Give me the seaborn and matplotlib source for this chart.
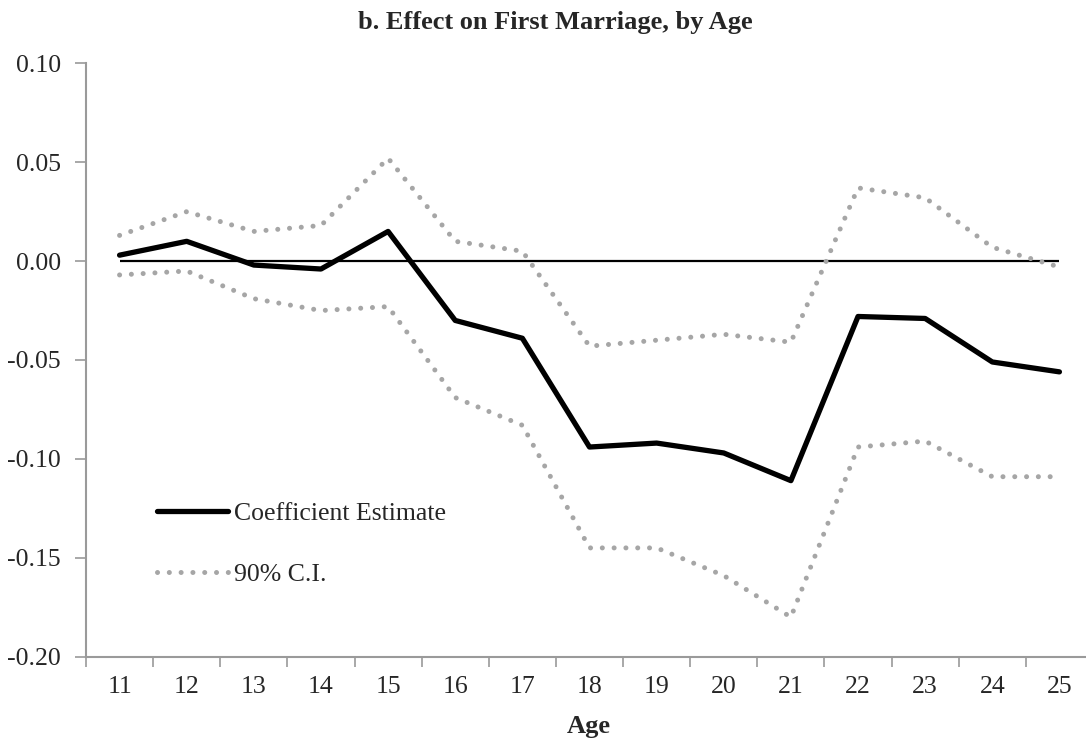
import numpy as np
import pandas as pd
import matplotlib
matplotlib.use("Agg")
import matplotlib.pyplot as plt
import seaborn as sns

# data
ages = [11, 12, 13, 14, 15, 16, 17, 18, 19, 20, 21, 22, 23, 24, 25]
coef = [0.003, 0.010, -0.002, -0.004, 0.015, -0.030, -0.039, -0.094,
        -0.092, -0.097, -0.111, -0.028, -0.029, -0.051, -0.056]
ci_upper = [0.013, 0.025, 0.015, 0.018, 0.052, 0.010, 0.005, -0.043,
            -0.040, -0.037, -0.041, 0.037, 0.032, 0.007, -0.003]
ci_lower = [-0.007, -0.005, -0.019, -0.025, -0.023, -0.069, -0.083, -0.145,
            -0.145, -0.159, -0.180, -0.094, -0.091, -0.109, -0.109]
y_ticks = [0.10, 0.05, 0.00, -0.05, -0.10, -0.15, -0.20]

df = pd.DataFrame({"Age": ages, "coef": coef, "upper": ci_upper, "lower": ci_lower})

sns.set_theme(style="white")
plt.rcParams["font.family"] = ["Liberation Serif", "DejaVu Serif"]

axis_grey = "#9A9A9A"
ci_grey = "#A6A6A6"
fs = 18.5

fig = plt.figure(figsize=(10.86, 7.44), dpi=100)
ax = fig.add_axes([86 / 1086, 87.3 / 744, 1007 / 1086, 593.4 / 744])

# zero reference line
ax.hlines(0, ages[0], ages[-1], color="black", linewidth=1.6, zorder=2)

# confidence interval (dotted grey)
dots = (0, (0.01, 2.35))
sns.lineplot(data=df, x="Age", y="upper", ax=ax, color=ci_grey, linewidth=3.6,
             linestyle=dots, dash_capstyle="round", label="90% C.I.", zorder=3)
sns.lineplot(data=df, x="Age", y="lower", ax=ax, color=ci_grey, linewidth=3.6,
             linestyle=dots, dash_capstyle="round", label="_nolegend_", zorder=3)

# coefficient estimate
sns.lineplot(data=df, x="Age", y="coef", ax=ax, color="black", linewidth=3.8,
             solid_capstyle="round", label="Coefficient Estimate", zorder=4)

ax.set_xlim(10.5, 25.5)
ax.set_ylim(-0.20, 0.10)

# y axis
ax.set_yticks(y_ticks)
ax.set_yticklabels([f"{v:.2f}" for v in y_ticks])
ax.tick_params(axis="y", which="major", direction="out", length=8, width=1.2,
               color=axis_grey, pad=10, labelsize=fs, left=True)

# x axis: ticks between categories, labels at category centers
ax.set_xticks(np.arange(10.5, 25.5, 1.0))
ax.set_xticklabels([])
ax.set_xticks(ages, minor=True)
ax.set_xticklabels([str(a) for a in ages], minor=True)
ax.tick_params(axis="x", which="major", direction="out", length=7, width=1.2,
               color=axis_grey, bottom=True)
ax.tick_params(axis="x", which="minor", length=0, pad=14, labelsize=fs)

for side in ["top", "right"]:
    ax.spines[side].set_visible(False)
for side in ["left", "bottom"]:
    ax.spines[side].set_color(axis_grey)
    ax.spines[side].set_linewidth(1.5)

ax.set_xlabel("")
ax.set_ylabel("")
ax.grid(False)

# legend (reorder: coefficient first)
handles, labels = ax.get_legend_handles_labels()
order = [labels.index("Coefficient Estimate"), labels.index("90% C.I.")]
ax.legend([handles[i] for i in order], [labels[i] for i in order],
          loc="center left", bbox_to_anchor=(157 / 1086, 1 - 544 / 744),
          bbox_transform=fig.transFigure, frameon=False, fontsize=fs,
          handlelength=2.78, handletextpad=0.22, labelspacing=1.45,
          borderaxespad=0, borderpad=0)

fig.text(555 / 1086, 1 - 22 / 744, "b. Effect on First Marriage, by Age",
         ha="center", va="center", fontsize=19, fontweight="bold")
fig.text(589 / 1086, 1 - 726 / 744, "Age", ha="center", va="center",
         fontsize=19, fontweight="bold")

fig.savefig("out.png", dpi=100)
